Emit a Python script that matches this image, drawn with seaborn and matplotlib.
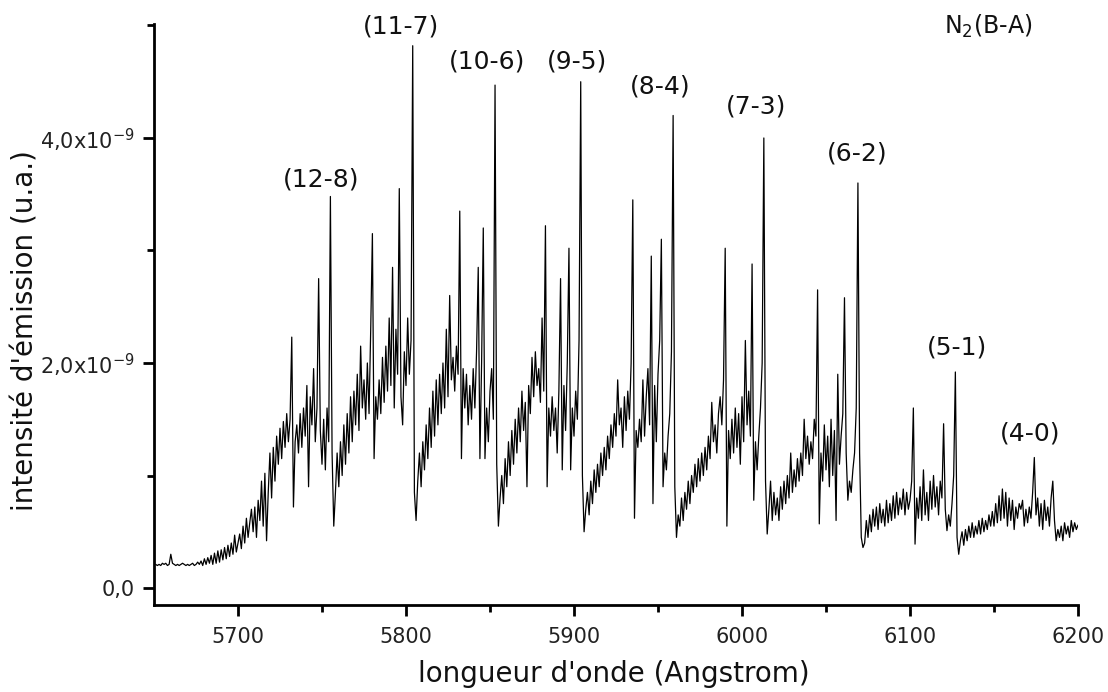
import numpy as np
import pandas as pd
import matplotlib
matplotlib.use("Agg")
import matplotlib.pyplot as plt
from matplotlib.ticker import FixedLocator, FuncFormatter
import seaborn as sns

# ---------------- data (intensity in units of 1e-9, sampled every 1 Angstrom) -------------
# each band: (first wavelength, last wavelength) and the intensities read off the picture
seg_a_range = (5651, 5699)
seg_a = [0.21, 0.20, 0.21, 0.20, 0.22, 0.21, 0.22, 0.20, 0.21, 0.30,
         0.22, 0.21, 0.20, 0.21, 0.20, 0.21, 0.22, 0.21, 0.20, 0.21,
         0.20, 0.21, 0.22, 0.20, 0.21, 0.23, 0.21, 0.24, 0.20, 0.26,
         0.21, 0.27, 0.22, 0.29, 0.21, 0.31, 0.22, 0.33, 0.23, 0.34,
         0.25, 0.36, 0.26, 0.38, 0.28, 0.40, 0.30, 0.47, 0.32]

seg_b_range = (5700, 5757)   # (12-8)
seg_b = [0.40, 0.48, 0.35, 0.55, 0.40, 0.62, 0.45, 0.58, 0.70, 0.50,
         0.72, 0.45, 0.78, 0.60, 0.95, 0.55, 1.02, 0.42, 0.85, 1.20,
         0.80, 1.25, 0.95, 1.35, 1.10, 1.42, 1.15, 1.48, 1.25, 1.55,
         1.30, 1.50, 2.23, 0.72, 1.30, 1.45, 1.20, 1.55, 1.25, 1.60,
         1.35, 1.80, 0.90, 1.70, 1.45, 1.95, 1.30, 1.60, 2.75, 1.40,
         1.10, 1.50, 1.05, 1.60, 1.30, 3.48, 1.20, 0.55]

seg_c_range = (5758, 5806)   # (11-7)
seg_c = [0.85, 1.20, 0.90, 1.30, 1.00, 1.45, 1.10, 1.55, 1.20, 1.70,
         1.30, 1.75, 1.45, 1.90, 1.40, 2.15, 1.60, 1.85, 1.50, 2.00,
         1.55, 2.30, 3.15, 1.15, 1.70, 1.50, 1.85, 1.55, 2.05, 1.65,
         2.15, 1.75, 2.40, 1.80, 2.85, 1.60, 2.30, 1.90, 3.55, 1.70,
         1.45, 2.10, 1.80, 2.40, 1.90, 2.20, 4.82, 0.85, 0.60]

seg_d_range = (5807, 5855)   # (10-6)
seg_d = [0.95, 1.20, 0.90, 1.30, 1.05, 1.45, 1.15, 1.60, 1.25, 1.75,
         1.35, 1.85, 1.45, 1.90, 1.55, 2.00, 1.60, 2.30, 1.70, 2.60,
         1.85, 2.05, 1.75, 2.15, 1.90, 3.35, 1.15, 1.95, 1.60, 1.90,
         1.45, 1.80, 1.50, 1.95, 1.60, 2.10, 2.85, 1.15, 2.00, 3.20,
         1.15, 1.60, 1.30, 1.75, 1.95, 1.50, 4.47, 1.10, 0.55]

seg_e_range = (5856, 5906)   # (9-5)
seg_e = [0.80, 1.00, 0.75, 1.15, 0.90, 1.30, 1.00, 1.40, 1.10, 1.50,
         1.20, 1.60, 1.30, 1.75, 1.40, 1.65, 0.90, 1.80, 1.55, 2.05,
         1.70, 2.10, 1.80, 1.95, 1.65, 2.40, 1.75, 3.22, 0.90, 1.60,
         1.35, 1.70, 1.40, 1.60, 1.20, 1.75, 2.75, 1.05, 1.80, 1.40,
         2.00, 3.02, 1.05, 1.60, 1.35, 1.75, 1.50, 2.20, 4.50, 1.00, 0.50]

seg_f_range = (5907, 5961)   # (8-4)
seg_f = [0.70, 0.85, 0.65, 0.95, 0.75, 1.05, 0.85, 1.10, 0.90, 1.20,
         1.00, 1.25, 1.05, 1.35, 1.15, 1.45, 1.25, 1.55, 1.35, 1.85,
         1.45, 1.60, 1.25, 1.70, 1.40, 1.75, 1.50, 2.00, 3.45, 0.62,
         1.40, 1.25, 1.50, 1.30, 1.85, 1.35, 1.70, 1.95, 1.45, 2.95,
         0.75, 1.80, 1.30, 1.90, 2.20, 3.10, 0.90, 1.20, 1.05, 1.35,
         1.55, 2.10, 4.20, 0.90, 0.45]

seg_g_range = (5962, 6015)   # (7-3)
seg_g = [0.65, 0.55, 0.80, 0.60, 0.85, 0.70, 0.95, 0.75, 1.00, 0.85,
         1.10, 0.90, 1.15, 0.95, 1.20, 1.00, 1.25, 1.05, 1.35, 1.15,
         1.65, 1.30, 1.45, 1.20, 1.55, 1.70, 1.45, 1.85, 3.02, 0.55,
         1.40, 1.15, 1.50, 1.20, 1.60, 1.25, 1.55, 1.10, 1.70, 1.30,
         2.20, 1.45, 1.75, 1.35, 2.88, 0.78, 1.30, 1.05, 1.35, 1.60,
         2.00, 4.00, 0.95, 0.48]

seg_h_range = (6016, 6072)   # (6-2)
seg_h = [0.70, 0.95, 0.60, 0.85, 0.65, 0.80, 0.60, 0.90, 0.70, 0.95,
         0.75, 1.00, 0.80, 1.20, 0.85, 1.05, 0.90, 1.15, 0.95, 1.20,
         1.00, 1.50, 1.15, 1.35, 1.10, 1.30, 1.15, 1.50, 1.35, 2.65,
         0.57, 1.20, 0.95, 1.45, 1.05, 1.35, 0.90, 1.50, 1.00, 1.40,
         0.60, 1.90, 1.10, 1.35, 1.55, 2.58, 1.20, 0.78, 0.95, 0.85,
         1.05, 1.20, 1.60, 3.60, 1.20, 0.45, 0.36]

seg_i_range = (6073, 6129)   # (5-1)
seg_i = [0.40, 0.60, 0.45, 0.65, 0.50, 0.70, 0.55, 0.72, 0.52, 0.75,
         0.58, 0.70, 0.55, 0.78, 0.58, 0.75, 0.60, 0.82, 0.62, 0.85,
         0.65, 0.80, 0.70, 0.88, 0.65, 0.85, 0.70, 0.78, 0.95, 1.60,
         0.39, 0.80, 0.62, 0.90, 0.60, 1.05, 0.65, 0.85, 0.60, 0.95,
         0.70, 1.00, 0.72, 0.90, 0.65, 0.95, 0.80, 1.46, 0.70, 0.51,
         0.65, 0.55, 0.75, 1.00, 1.92, 0.45, 0.30]

seg_j_range = (6130, 6200)   # (4-0)
seg_j = [0.42, 0.50, 0.38, 0.52, 0.42, 0.55, 0.45, 0.58, 0.45, 0.55,
         0.48, 0.60, 0.48, 0.62, 0.50, 0.60, 0.52, 0.65, 0.55, 0.68,
         0.55, 0.75, 0.58, 0.82, 0.60, 0.88, 0.62, 0.85, 0.55, 0.80,
         0.60, 0.78, 0.52, 0.72, 0.62, 0.75, 0.70, 0.78, 0.55, 0.70,
         0.58, 0.72, 0.62, 0.85, 1.16, 0.65, 0.80, 0.55, 0.75, 0.52,
         0.78, 0.60, 0.72, 0.55, 0.80, 0.95, 0.60, 0.42, 0.52, 0.45,
         0.55, 0.42, 0.58, 0.48, 0.55, 0.45, 0.60, 0.50, 0.58, 0.52, 0.56]

band_labels = ["(12-8)", "(11-7)", "(10-6)", "(9-5)", "(8-4)",
               "(7-3)", "(6-2)", "(5-1)", "(4-0)"]
label_wavelength = [5749.4, 5797.0, 5848.2, 5901.8, 5951.2,
                    6008.3, 6068.5, 6128.0, 6171.4]
label_intensity = [3.63, 4.99, 4.68, 4.68, 4.46, 4.28, 3.86, 2.14, 1.37]

x_ticks = [5700, 5800, 5900, 6000, 6100, 6200]
y_ticks = [0.0, 2.0, 4.0]

# ---------------- assemble -------------------------------------------------
segments = [(seg_a_range, seg_a), (seg_b_range, seg_b), (seg_c_range, seg_c),
            (seg_d_range, seg_d), (seg_e_range, seg_e), (seg_f_range, seg_f),
            (seg_g_range, seg_g), (seg_h_range, seg_h), (seg_i_range, seg_i),
            (seg_j_range, seg_j)]
wl, inten = [], []
for (lo, hi), vals in segments:
    xs = np.linspace(lo, hi, len(vals))
    wl.extend(xs)
    inten.extend(vals)
df = pd.DataFrame({"wavelength": wl, "intensity": np.array(inten) * 1e-9})

# ---------------- style ------------------------------------------------------
sns.set_style("ticks")
plt.rcParams["font.family"] = ["DejaVu Sans"]
plt.rcParams["mathtext.fontset"] = "dejavusans"

fig = plt.figure(figsize=(11.08, 6.92), dpi=100)
ax = fig.add_axes([154 / 1108, 1 - 605 / 692, (1078 - 154) / 1108, (605 - 24) / 692])

sns.lineplot(data=df, x="wavelength", y="intensity", ax=ax, color="black",
             linewidth=0.9, estimator=None, sort=False)

ax.set_xlim(5650, 6200)
ax.set_ylim(-0.151e-9, 5.013e-9)

ax.xaxis.set_major_locator(FixedLocator(x_ticks))
ax.xaxis.set_minor_locator(FixedLocator([5750, 5850, 5950, 6050, 6150]))
ax.yaxis.set_major_locator(FixedLocator([v * 1e-9 for v in y_ticks]))
ax.yaxis.set_minor_locator(FixedLocator([1e-9, 3e-9, 5e-9]))


def yfmt(v, pos):
    m = v / 1e-9
    if abs(m) < 1e-6:
        return "0,0"
    return ("%.1f" % m).replace(".", ",") + "x10$^{-9}$"


ax.yaxis.set_major_formatter(FuncFormatter(yfmt))
ax.xaxis.set_major_formatter(FuncFormatter(lambda v, p: "%d" % v))

for side in ["top", "right"]:
    ax.spines[side].set_visible(False)
for side in ["left", "bottom"]:
    ax.spines[side].set_linewidth(2.0)
    ax.spines[side].set_color("black")

ax.tick_params(axis="both", which="major", direction="out", length=8,
               width=2.0, color="black", labelsize=15, labelcolor="#222222")
ax.tick_params(axis="both", which="minor", direction="out", length=5,
               width=2.0, color="black")
ax.tick_params(axis="x", which="major", pad=8)
ax.tick_params(axis="y", which="major", pad=6)

ax.set_xlabel("longueur d'onde (Angstrom)", fontsize=20, color="#111111")
ax.set_ylabel("intensité d'émission (u.a.)", fontsize=20, color="#111111")
ax.xaxis.label.set_va("center")
ax.yaxis.label.set_va("center")
ax.xaxis.set_label_coords(0.498, -0.118)
ax.yaxis.set_label_coords(-0.1396, 0.473)

for lab, lx, ly in zip(band_labels, label_wavelength, label_intensity):
    ax.text(lx, ly * 1e-9, lab, ha="center", va="center", fontsize=18,
            color="#111111", clip_on=False)

ax.text(6146.4, 4.99e-9, "N$_2$(B-A)", ha="center", va="center", fontsize=17,
        color="#111111", clip_on=False)

fig.savefig("out.png", dpi=100)
